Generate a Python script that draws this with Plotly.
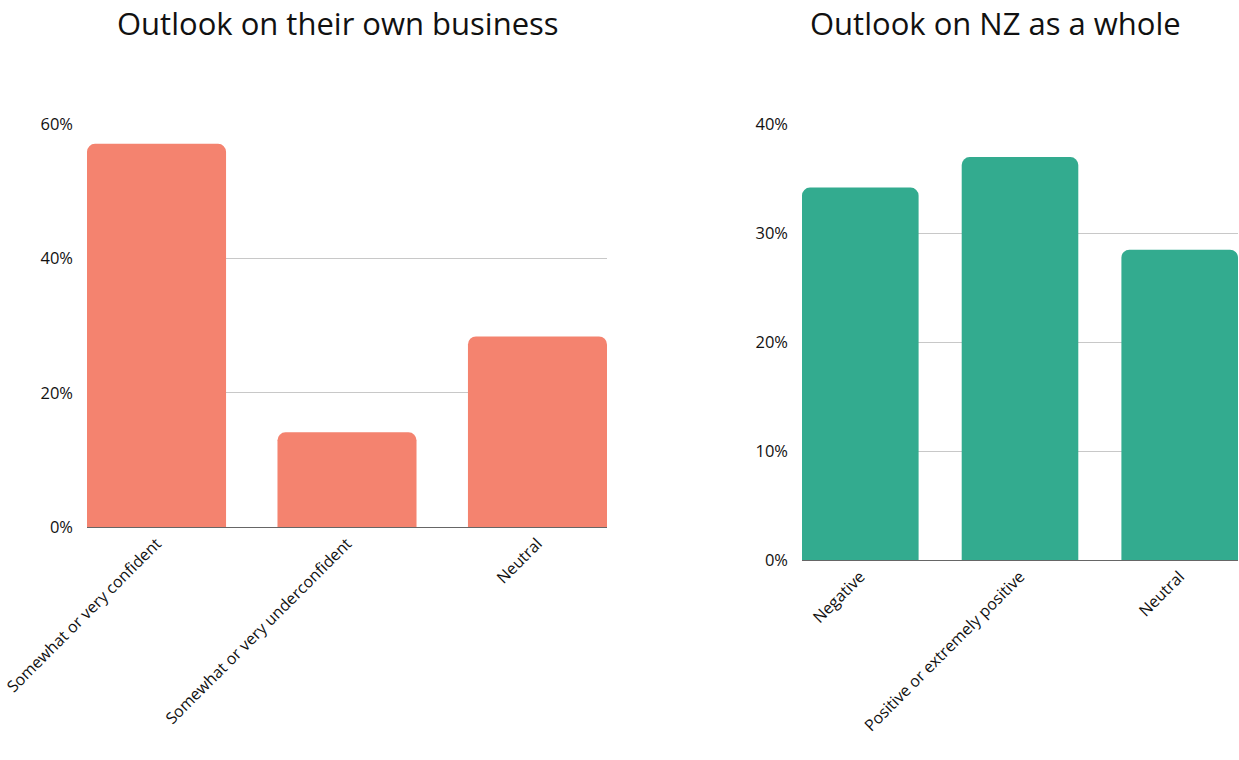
import plotly.graph_objects as go

# Data
own_categories = ["Somewhat or very confident", "Somewhat or very underconfident", "Neutral"]
own_values = [57.1, 14.1, 28.4]

nz_categories = ["Negative", "Positive or extremely positive", "Neutral"]
nz_values = [34.2, 37.0, 28.5]

left_ticks = [0, 20, 40, 60]
right_ticks = [0, 10, 20, 30, 40]

FONT = "Open Sans"
W, H = 1239, 760
BARGAP = 0.27
HALF = (1 - BARGAP) / 2

fig = go.Figure()
fig.add_trace(go.Bar(x=own_categories, y=own_values, marker_color="#F4836F",
                     marker_line_width=0, xaxis="x", yaxis="y", showlegend=False))
fig.add_trace(go.Bar(x=nz_categories, y=nz_values, marker_color="#33AB8F",
                     marker_line_width=0, xaxis="x2", yaxis="y2", showlegend=False))

tickfont = dict(family=FONT, size=16, color="#111")
common_x = dict(showgrid=False, showline=True, linecolor="#666", linewidth=1,
                tickangle=-45, tickfont=tickfont, ticks="", fixedrange=True,
                automargin=False)
common_y = dict(showgrid=True, gridcolor="#c8c8c8", gridwidth=1, zeroline=False,
                showline=False, tickfont=dict(family=FONT, size=16.5, color="#111"),
                ticks="", ticklabelstandoff=13, automargin=False)

fig.update_layout(
    width=W, height=H,
    margin=dict(l=0, r=0, t=0, b=0),
    paper_bgcolor="white", plot_bgcolor="white",
    bargap=BARGAP,
    barcornerradius=8,
    xaxis=dict(domain=[87 / W, 607 / W], anchor="y",
               range=[-HALF, 2 + HALF], **common_x),
    yaxis=dict(domain=[1 - 527 / H, 1 - 124 / H], anchor="x", range=[0, 60.05],
               tickvals=left_ticks, ticktext=[f"{v}%" for v in left_ticks],
               **common_y),
    xaxis2=dict(domain=[802 / W, 1238 / W], anchor="y2",
                range=[-HALF, 2 + HALF], **common_x),
    yaxis2=dict(domain=[1 - 560 / H, 1 - 124 / H], anchor="x2", range=[0, 40.04],
                tickvals=right_ticks, ticktext=[f"{v}%" for v in right_ticks],
                **common_y),
    annotations=[
        dict(text="Outlook on their own business", x=338 / W, y=1.0,
             xref="paper", yref="paper", showarrow=False, xanchor="center",
             yanchor="top", font=dict(family=FONT, size=31, color="#111")),
        dict(text="Outlook on NZ as a whole", x=995 / W, y=1.0,
             xref="paper", yref="paper", showarrow=False, xanchor="center",
             yanchor="top", font=dict(family=FONT, size=31, color="#111")),
    ],
)

fig.write_html("out.html")
